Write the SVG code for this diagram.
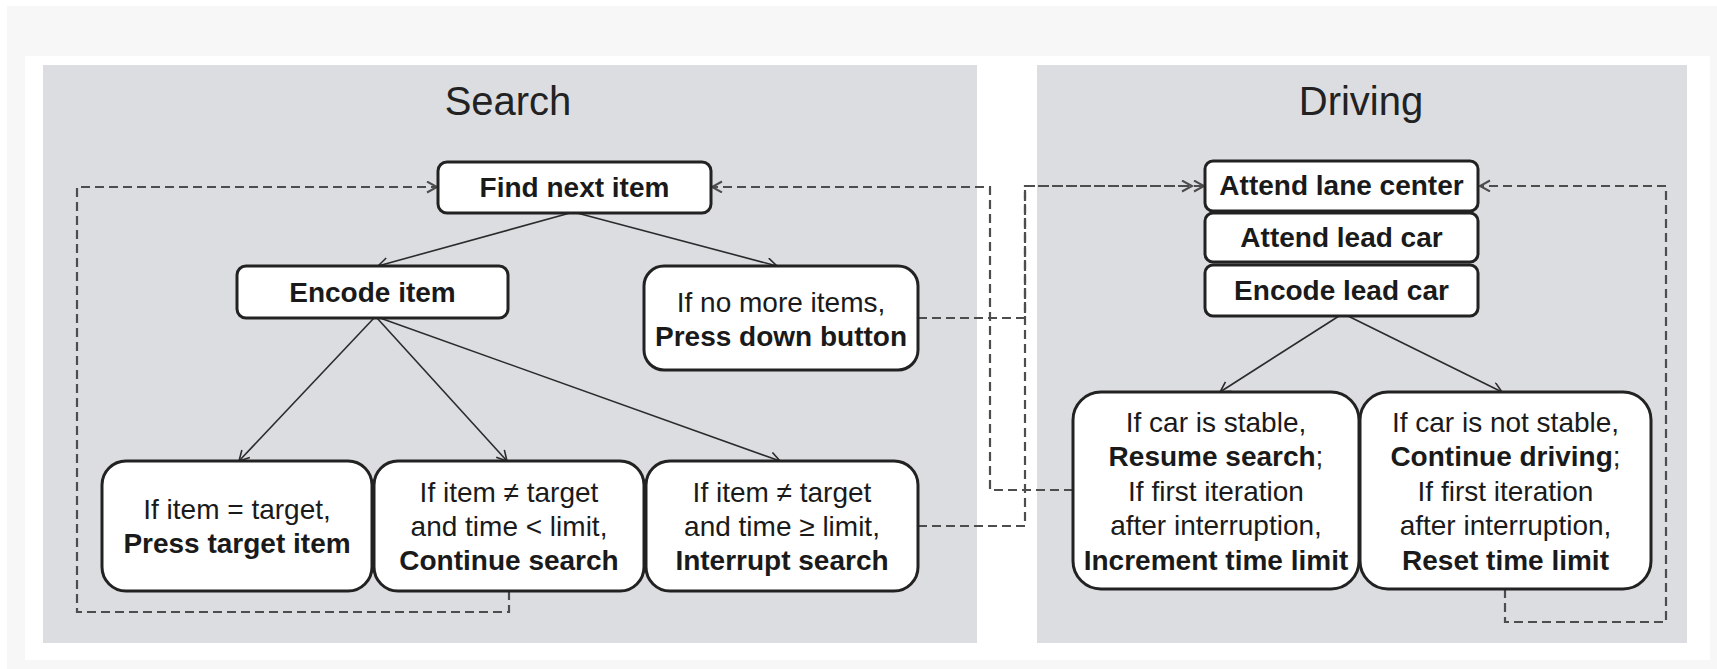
<svg xmlns="http://www.w3.org/2000/svg" width="1717" height="669" viewBox="0 0 1717 669">
  <defs>
    <style>
      .panel { fill: #dcdde0; }
      .title { font-family: "Liberation Sans", Arial, sans-serif; font-size: 40px; fill: #222; text-anchor: middle; }
      .box { fill: #ffffff; stroke: #222; stroke-width: 3; }
      .t { font-family: "Liberation Sans", Arial, sans-serif; font-size: 28px; fill: #1a1a1a; text-anchor: middle; }
      .b { font-weight: bold; }
      .flow { fill: none; stroke: #2b2b2b; stroke-width: 1.6; marker-end: url(#open); }
      .loop { fill: none; stroke: #4d4d4d; stroke-width: 2.2; stroke-dasharray: 9 5; marker-end: url(#openDash); }
    </style>
    <marker id="open" markerUnits="userSpaceOnUse" markerWidth="14" markerHeight="14" refX="11" refY="6" orient="auto">
      <path d="M1,0.5 L11,6 L1,11.5" fill="none" stroke="#2b2b2b" stroke-width="1.6"/>
    </marker>
    <marker id="openDash" markerUnits="userSpaceOnUse" markerWidth="14" markerHeight="14" refX="11" refY="6" orient="auto">
      <path d="M1,0.5 L11,6 L1,11.5" fill="none" stroke="#4d4d4d" stroke-width="2"/>
    </marker>
  </defs>

  <!-- page background -->
  <rect x="0" y="0" width="1717" height="669" fill="#ffffff"/>
  <rect x="7" y="6" width="1710" height="663" fill="#f7f7f7"/>
  <rect x="25" y="56" width="1685" height="604" fill="#ffffff"/>

  <!-- panels -->
  <g id="panel-search">
    <rect class="panel" x="43" y="65" width="934" height="578"/>
    <text class="title" x="508" y="115">Search</text>
  </g>
  <g id="panel-driving">
    <rect class="panel" x="1037" y="65" width="650" height="578"/>
    <text class="title" x="1361" y="115">Driving</text>
  </g>

  <!-- connectors -->
  <g id="connectors">
    <path class="flow" d="M570,213 L378,266"/>
    <path class="flow" d="M577,213 L777,266"/>
    <path class="flow" d="M374,318 L239,461"/>
    <path class="flow" d="M377,318 L507,461"/>
    <path class="flow" d="M380,318 L780,461"/>
    <path class="flow" d="M1339,316 L1220,392"/>
    <path class="flow" d="M1348,316 L1502,392"/>

    <path class="loop" d="M509,591 V612 H77 V187 H437"/>
    <path class="loop" d="M1073,490 H990 V187 H712"/>
    <path class="loop" d="M918,318 H1025 V186 H1192"/>
    <path class="loop" d="M918,526 H1025 V186 H1204"/>
    <path class="loop" d="M1505,589 V622 H1666 V186 H1480"/>
  </g>

  <!-- search nodes -->
  <g id="find-next-item">
    <rect class="box" x="438" y="162" width="273" height="51" rx="9"/>
    <text class="t b" x="574.5" y="197">Find next item</text>
  </g>
  <g id="encode-item">
    <rect class="box" x="237" y="266" width="271" height="52" rx="9"/>
    <text class="t b" x="372.5" y="302">Encode item</text>
  </g>
  <g id="no-more-items">
    <rect class="box" x="644" y="266" width="274" height="104" rx="20"/>
    <text class="t" x="781" y="312">If no more items,</text>
    <text class="t b" x="781" y="346">Press down button</text>
  </g>
  <g id="item-equals-target">
    <rect class="box" x="102" y="461" width="270" height="130" rx="24"/>
    <text class="t" x="237" y="519">If item = target,</text>
    <text class="t b" x="237" y="553">Press target item</text>
  </g>
  <g id="continue-search">
    <rect class="box" x="374" y="461" width="270" height="130" rx="24"/>
    <text class="t" x="509" y="502">If item ≠ target</text>
    <text class="t" x="509" y="536">and time &lt; limit,</text>
    <text class="t b" x="509" y="570">Continue search</text>
  </g>
  <g id="interrupt-search">
    <rect class="box" x="646" y="461" width="272" height="130" rx="24"/>
    <text class="t" x="782" y="502">If item ≠ target</text>
    <text class="t" x="782" y="536">and time ≥ limit,</text>
    <text class="t b" x="782" y="570">Interrupt search</text>
  </g>

  <!-- driving nodes -->
  <g id="attend-lane-center">
    <rect class="box" x="1205" y="161" width="273" height="50" rx="8"/>
    <text class="t b" x="1341.5" y="195">Attend lane center</text>
  </g>
  <g id="attend-lead-car">
    <rect class="box" x="1205" y="213" width="273" height="49" rx="8"/>
    <text class="t b" x="1341.5" y="247">Attend lead car</text>
  </g>
  <g id="encode-lead-car">
    <rect class="box" x="1205" y="265" width="273" height="51" rx="8"/>
    <text class="t b" x="1341.5" y="300">Encode lead car</text>
  </g>
  <g id="car-stable">
    <rect class="box" x="1073" y="392" width="286" height="197" rx="28"/>
    <text class="t" x="1216" y="432">If car is stable,</text>
    <text class="t" x="1216" y="466"><tspan class="b">Resume search</tspan>;</text>
    <text class="t" x="1216" y="501">If first iteration</text>
    <text class="t" x="1216" y="535">after interruption,</text>
    <text class="t b" x="1216" y="570">Increment time limit</text>
  </g>
  <g id="car-not-stable">
    <rect class="box" x="1360" y="392" width="291" height="197" rx="28"/>
    <text class="t" x="1505.5" y="432">If car is not stable,</text>
    <text class="t" x="1505.5" y="466"><tspan class="b">Continue driving</tspan>;</text>
    <text class="t" x="1505.5" y="501">If first iteration</text>
    <text class="t" x="1505.5" y="535">after interruption,</text>
    <text class="t b" x="1505.5" y="570">Reset time limit</text>
  </g>
</svg>
